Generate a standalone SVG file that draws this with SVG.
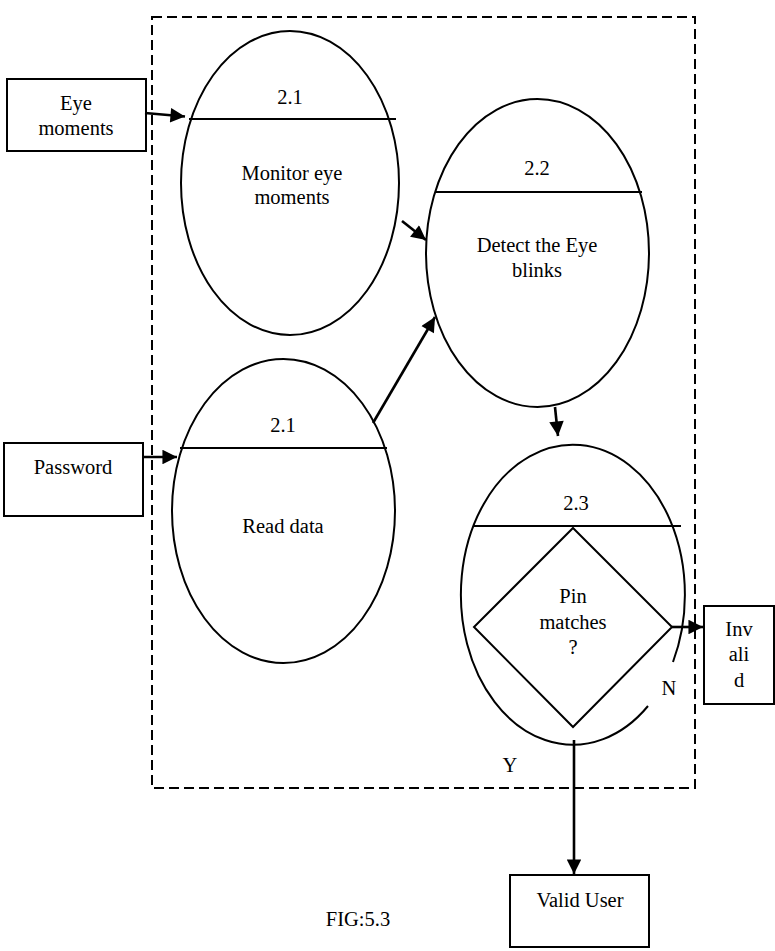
<svg xmlns="http://www.w3.org/2000/svg" width="775" height="951" viewBox="0 0 775 951">
<style>
.t{font-family:'Liberation Serif','Times New Roman',serif;font-size:20.5px;fill:#000;text-anchor:middle}
.s{fill:none;stroke:#000;stroke-width:2}
.b{fill:#fff;stroke:#000;stroke-width:2}
.c{fill:none;stroke:#000;stroke-width:2.6}
</style>
<defs>
<marker id="ah" viewBox="0 0 10 10" refX="10" refY="5" markerWidth="6.2" markerHeight="5.6" orient="auto" markerUnits="strokeWidth">
<path d="M0,0 L10,5 L0,10 z" fill="#000"/>
</marker>
</defs>
<rect width="775" height="951" fill="#fff"/>
<g id="boundary">
<rect x="152" y="17" width="543" height="771" fill="none" stroke="#000" stroke-width="2" stroke-dasharray="10 5"/>
</g>
<g id="eye-moments">
<rect class="b" x="7" y="79" width="139" height="72"/>
<text class="t" x="76" y="110">Eye</text>
<text class="t" x="76" y="135">moments</text>
</g>
<g id="password">
<rect class="b" x="4" y="443" width="139" height="73"/>
<text class="t" x="73" y="474">Password</text>
</g>
<g id="p21a">
<ellipse class="s" cx="290" cy="183" rx="109" ry="152"/>
<line class="s" x1="189" y1="119" x2="396" y2="119"/>
<text class="t" x="290" y="104">2.1</text>
<text class="t" x="292" y="180">Monitor eye</text>
<text class="t" x="292" y="204">moments</text>
</g>
<g id="p21b">
<ellipse class="s" cx="283.5" cy="511" rx="111.5" ry="152"/>
<line class="s" x1="180" y1="448" x2="387" y2="448"/>
<text class="t" x="283" y="432">2.1</text>
<text class="t" x="283" y="533">Read data</text>
</g>
<g id="p22">
<ellipse class="s" cx="537.5" cy="253" rx="111.5" ry="154"/>
<line class="s" x1="435" y1="192" x2="642" y2="192"/>
<text class="t" x="537" y="175">2.2</text>
<text class="t" x="537" y="252">Detect the Eye</text>
<text class="t" x="537" y="277">blinks</text>
</g>
<g id="p23">
<path class="s" d="M673,662 A112,150 0 1 0 648,706"/>
<line class="s" x1="473" y1="526" x2="681" y2="526"/>
<text class="t" x="576" y="510">2.3</text>
<polygon class="s" points="573,528 672,627 573,727 474,627"/>
<text class="t" x="573" y="603">Pin</text>
<text class="t" x="573" y="629">matches</text>
<text class="t" x="573" y="654">?</text>
<text class="t" x="669" y="695">N</text>
<text class="t" x="510" y="772">Y</text>
</g>
<g id="invalid">
<rect class="b" x="704" y="606" width="70" height="98"/>
<text class="t" x="739" y="636">Inv</text>
<text class="t" x="739" y="661">ali</text>
<text class="t" x="739" y="687">d</text>
</g>
<g id="valid-user">
<rect class="b" x="510" y="875" width="139" height="72"/>
<text class="t" x="580" y="907">Valid User</text>
</g>
<g id="caption">
<text class="t" x="358" y="926">FIG:5.3</text>
</g>
<g id="connectors">
<line class="c" x1="145" y1="113" x2="185" y2="116.5" marker-end="url(#ah)"/>
<line class="c" x1="143" y1="457" x2="177" y2="457" marker-end="url(#ah)"/>
<line class="c" x1="402" y1="221" x2="426" y2="240" marker-end="url(#ah)"/>
<line class="c" x1="373" y1="423" x2="435" y2="317" marker-end="url(#ah)"/>
<line class="c" x1="555" y1="407" x2="558" y2="436" marker-end="url(#ah)"/>
<line class="c" x1="672" y1="627" x2="703" y2="627" marker-end="url(#ah)"/>
<line class="c" x1="574" y1="740" x2="574" y2="874" marker-end="url(#ah)"/>
</g>
</svg>
